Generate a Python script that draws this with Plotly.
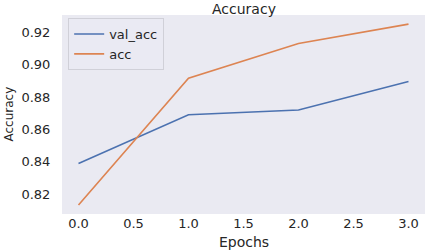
import plotly.graph_objects as go

epochs = [0, 1, 2, 3]
val_acc = [0.839, 0.869, 0.872, 0.8895]
acc = [0.8135, 0.8915, 0.913, 0.9249]
x_ticks = [0.0, 0.5, 1.0, 1.5, 2.0, 2.5, 3.0]
y_ticks = [0.82, 0.84, 0.86, 0.88, 0.90, 0.92]

FONT = "DejaVu Sans"
TXT = "#262626"

fig = go.Figure()
fig.add_trace(go.Scatter(x=epochs, y=val_acc, mode="lines", name="val_acc",
                         line=dict(color="#4C72B0", width=1.6)))
fig.add_trace(go.Scatter(x=epochs, y=acc, mode="lines", name="acc",
                         line=dict(color="#DD8452", width=1.6)))

fig.update_layout(
    width=427, height=251,
    margin=dict(l=62, r=2, t=15, b=37),
    paper_bgcolor="white", plot_bgcolor="#EAEAF2",
    font=dict(family=FONT, size=13, color=TXT),
    showlegend=True,
    legend=dict(x=0.017, y=0.985, xanchor="left", yanchor="top",
                bgcolor="rgba(234,234,242,0.8)", bordercolor="#d0d0d8", borderwidth=1,
                font=dict(size=13, color=TXT), tracegroupgap=0),
    xaxis=dict(range=[-0.15, 3.15], tickvals=x_ticks,
               ticktext=[f"{v:.1f}" for v in x_ticks],
               showgrid=False, zeroline=False, ticks="", ticklen=0,
               tickfont=dict(size=13, color=TXT)),
    yaxis=dict(range=[0.8079, 0.9305], tickvals=y_ticks,
               ticktext=[f"{v:.2f}" for v in y_ticks],
               showgrid=False, zeroline=False, ticks="outside", ticklen=8,
               tickcolor="rgba(0,0,0,0)",
               tickfont=dict(size=13, color=TXT)),
    annotations=[
        dict(text="Accuracy", xref="paper", yref="paper", x=0.5, y=1.0,
             xanchor="center", yanchor="top", yshift=16, showarrow=False,
             font=dict(size=14, color=TXT)),
        dict(text="Epochs", xref="paper", yref="paper", x=0.5, y=0,
             xanchor="center", yanchor="top", yshift=-18, showarrow=False,
             font=dict(size=14, color=TXT)),
        dict(text="Accuracy", xref="paper", yref="paper", x=0, y=0.5,
             xanchor="center", yanchor="middle", xshift=-54, textangle=-90,
             showarrow=False, font=dict(size=12, color=TXT)),
    ],
)

fig.write_html("out.html")
